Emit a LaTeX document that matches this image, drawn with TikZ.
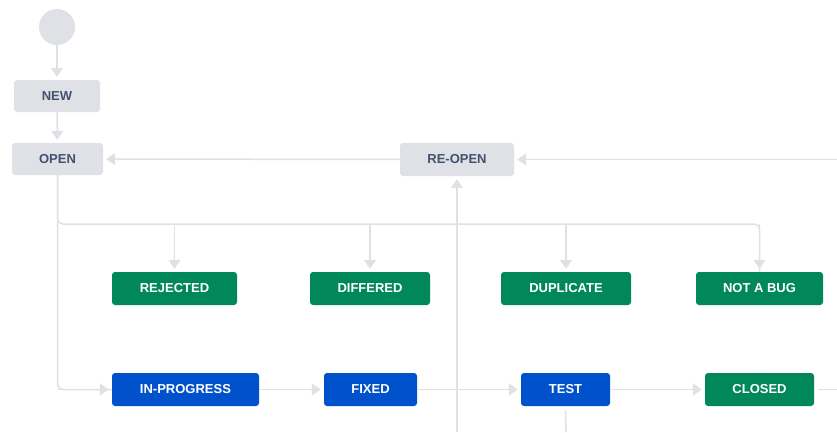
\documentclass[tikz,border=0pt]{standalone}
\usepackage{fontspec}
\setmainfont{Liberation Sans}
\usetikzlibrary{arrows.meta}
\definecolor{boxgray}{HTML}{DFE1E6}
\definecolor{txtgray}{HTML}{42526E}
\definecolor{jgreen}{HTML}{00875A}
\definecolor{jblue}{HTML}{0052CC}
\definecolor{linegray}{HTML}{DFE1E6}
\tikzset{
  stbox/.style={rectangle, rounded corners=3pt, inner sep=0pt, font=\fontsize{13}{15}\selectfont\bfseries, anchor=center},
  graybox/.style={stbox, fill=boxgray, text=txtgray},
  greenbox/.style={stbox, fill=jgreen, text=white},
  bluebox/.style={stbox, fill=jblue, text=white},
  conn/.style={draw=linegray, line width=1.5pt},
  arr/.style={conn, -{Triangle[width=12pt,length=9pt]}, shorten >=3pt},
}
\begin{document}
\begin{tikzpicture}[x=1pt,y=-1pt]
\useasboundingbox (0,0) rectangle (837,432);
% nodes
\node[circle, fill=boxgray, minimum size=36pt, inner sep=0pt] (start) at (57,27) {};
\node[graybox, minimum width=86pt, minimum height=32pt] (new) at (57,96) {NEW};
\node[graybox, minimum width=91pt, minimum height=32pt] (open) at (57.5,159) {OPEN};
\node[graybox, minimum width=114pt, minimum height=33pt] (reopen) at (457,159.5) {RE-OPEN};
\node[greenbox, minimum width=125pt, minimum height=33pt] (rejected) at (174.5,288.5) {REJECTED};
\node[greenbox, minimum width=120pt, minimum height=33pt] (differed) at (370,288.5) {DIFFERED};
\node[greenbox, minimum width=130pt, minimum height=33pt] (duplicate) at (566,288.5) {DUPLICATE};
\node[greenbox, minimum width=127pt, minimum height=33pt] (notabug) at (759.5,288.5) {NOT A BUG};
\node[bluebox, minimum width=147pt, minimum height=33pt] (inprog) at (185.5,389.5) {IN-PROGRESS};
\node[bluebox, minimum width=93pt, minimum height=33pt] (fixed) at (370.5,389.5) {FIXED};
\node[bluebox, minimum width=89pt, minimum height=33pt] (test) at (565.5,389.5) {TEST};
\node[greenbox, minimum width=109pt, minimum height=33pt] (closed) at (759.5,389.5) {CLOSED};
% free ends and junctions
\coordinate (rin) at (837,159.5);
\coordinate (bot1) at (457,432);
\coordinate (bot2) at (566,432);
\coordinate (rout) at (837,389.5);
\coordinate (jl) at (57.5,224);
\coordinate (jr) at (759.5,224);
\coordinate (j1) at (174.5,224);
\coordinate (j2) at (370,224);
\coordinate (j3) at (566,224);
\coordinate (jdown) at (57.5,389.5);
% connectors
\draw[arr] (start) -- (new);
\draw[arr] (new) -- (open);
\draw[arr] (reopen) -- (open);
\draw[arr] (rin) -- (reopen);
\draw[arr] (bot1) -- (reopen);
\draw[conn, rounded corners=6pt] (open.south) -- (jl) -- (jr) -- (notabug.north);
\draw[arr] (jr) -- (notabug);
\draw[arr] (j1) -- (rejected);
\draw[arr] (j2) -- (differed);
\draw[arr] (j3) -- (duplicate);
\draw[conn, rounded corners=6pt] (open.south) -- (jdown) -- (inprog.west);
\draw[arr] (jdown) -- (inprog);
\draw[arr] (inprog) -- (fixed);
\draw[arr] (fixed) -- (test);
\draw[arr] (test) -- (closed);
\draw[conn, shorten <=4pt] (test.south) -- (bot2);
\draw[conn, shorten <=4pt] (closed.east) -- (rout);
\end{tikzpicture}
\end{document}
